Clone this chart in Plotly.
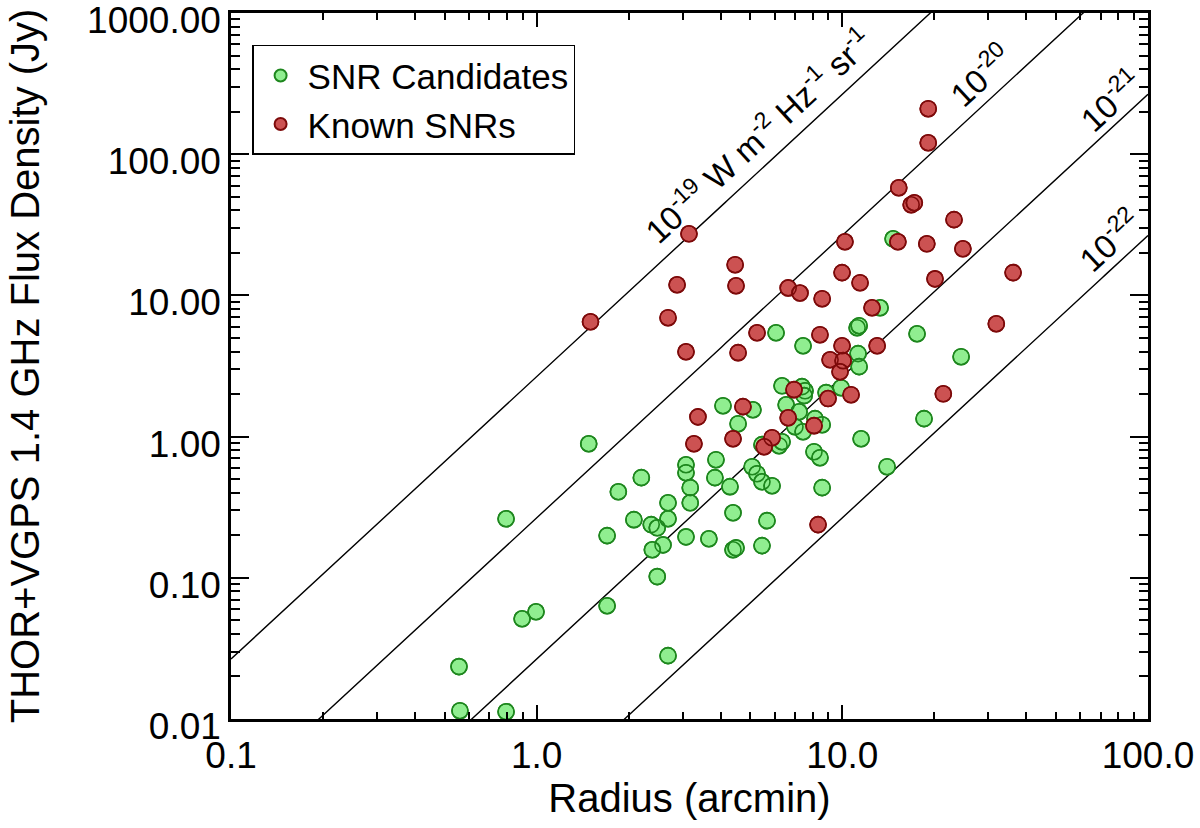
import numpy as np
import plotly.graph_objects as go

# ---------------- data ----------------
cand_radius = [1.48, 1.85, 2.20, 1.70, 0.794, 2.08, 2.37, 2.48, 2.69, 2.69,
               2.59, 2.39, 2.48, 1.70, 0.995, 0.896, 0.557, 2.69, 0.561, 0.794,
               3.08, 3.08, 3.18, 3.18, 3.08, 3.66, 3.86, 3.83, 4.29, 4.39,
               4.39, 4.49, 5.46, 5.67, 5.07, 5.26, 5.46, 5.89, 6.21, 5.46,
               6.35, 4.07, 5.10, 4.56, 6.55, 7.22, 8.14, 8.59, 7.00, 7.44,
               8.08, 8.45, 8.59, 6.35, 7.38, 7.55, 7.50, 8.85, 9.91, 6.07,
               7.44, 11.18, 11.35, 11.26, 11.35, 11.52, 14.01, 18.51, 17.56, 24.47,
               14.66, 13.29]
cand_flux = [0.89, 0.407, 0.512, 0.199, 0.262, 0.258, 0.238, 0.226, 0.340, 0.262,
             0.171, 0.158, 0.102, 0.0634, 0.0575, 0.0513, 0.0235, 0.0281, 0.01145, 0.01126,
             0.632, 0.555, 0.435, 0.340, 0.195, 0.189, 0.686, 0.512, 0.442, 0.289,
             0.158, 0.163, 0.169, 0.254, 0.612, 0.546, 0.479, 0.449, 0.862, 0.877,
             0.920, 1.655, 1.55, 1.234, 1.68, 1.50, 1.34, 1.214, 1.175, 1.083,
             0.782, 0.709, 0.435, 2.29, 2.26, 2.11, 1.95, 2.05, 2.22, 5.44,
             4.40, 5.90, 6.10, 3.87, 3.13, 0.966, 0.612, 1.34, 5.35, 3.68,
             25.2, 8.18]

known_radius = [1.50, 3.15, 2.88, 2.69, 3.08, 3.37, 3.27, 4.46, 4.49, 4.56,
                5.26, 4.73, 4.39, 5.89, 5.55, 6.65, 7.27, 8.59, 8.45, 9.98,
                10.2, 11.43, 12.51, 9.98, 13.0, 9.12, 10.06, 9.83, 6.95, 8.98,
                10.68, 6.65, 8.08, 8.33, 15.2, 18.9, 24.8, 23.2, 16.8, 17.2,
                15.3, 19.1, 19.1, 20.1, 36.2, 31.9, 21.4]
known_flux = [6.51, 27.3, 11.9, 6.95, 3.99, 1.38, 0.89, 16.5, 11.7, 3.93,
              5.44, 1.63, 0.966, 0.982, 0.848, 11.3, 10.4, 9.48, 5.27, 14.5,
              24.0, 12.3, 8.18, 4.40, 4.40, 3.50, 3.45, 2.88, 2.15, 1.86,
              1.98, 1.36, 1.195, 0.238, 24.0, 23.2, 21.4, 34.4, 43.9, 45.3,
              57.9, 120.6, 210.0, 13.1, 14.5, 6.30, 2.01]

# constant surface-brightness lines (W m^-2 Hz^-1 sr^-1)
sb_levels = [1e-19, 1e-20, 1e-21, 1e-22]
sb_labels = ["10<sup>-19</sup> W m<sup>-2</sup> Hz<sup>-1</sup> sr<sup>-1</sup>",
             "10<sup>-20</sup>", "10<sup>-21</sup>", "10<sup>-22</sup>"]
label_radius = [6.1, 32.0, 84.0, 84.0]

x_tickvals = [0.1, 1, 10, 100]
x_ticktext = ["0.1", "1.0", "10.0", "100.0"]
y_tickvals = [0.01, 0.1, 1, 10, 100, 1000]
y_ticktext = ["0.01", "0.10", "1.00", "10.00", "100.00", "1000.00"]

# ---------------- figure ----------------
FONT = "Liberation Sans, Arial, Helvetica, sans-serif"
ARCMIN2_SR = (np.pi / 180.0 / 60.0) ** 2


def sb_flux(level, radius):
    r = np.asarray(radius, dtype=float)
    return level * np.pi * r ** 2 * ARCMIN2_SR / 1e-26


fig = go.Figure()

r_grid = np.logspace(-1, 2, 300)
for lev in sb_levels:
    fig.add_trace(go.Scatter(x=r_grid, y=sb_flux(lev, r_grid), mode="lines",
                             line=dict(color="black", width=1.4),
                             showlegend=False, hoverinfo="skip"))

GREEN_FILL = "rgb(144,238,144)"
GREEN_EDGE = "rgb(30,135,30)"
RED_FILL = "rgb(204,82,82)"
RED_EDGE = "rgb(125,10,10)"
MS = 16

fig.add_trace(go.Scatter(x=cand_radius, y=cand_flux, mode="markers",
                         name="SNR Candidates",
                         marker=dict(size=MS, color=GREEN_FILL,
                                     line=dict(color=GREEN_EDGE, width=1.6))))
fig.add_trace(go.Scatter(x=cand_radius, y=cand_flux, mode="markers",
                         showlegend=False, hoverinfo="skip",
                         marker=dict(size=MS, color="rgba(0,0,0,0)",
                                     line=dict(color=GREEN_EDGE, width=1.6))))
fig.add_trace(go.Scatter(x=known_radius, y=known_flux, mode="markers",
                         name="Known SNRs",
                         marker=dict(size=MS, color=RED_FILL,
                                     line=dict(color=RED_EDGE, width=1.6))))
fig.add_trace(go.Scatter(x=known_radius, y=known_flux, mode="markers",
                         showlegend=False, hoverinfo="skip",
                         marker=dict(size=MS, color="rgba(0,0,0,0)",
                                     line=dict(color=RED_EDGE, width=1.6))))

# rotated labels along the lines
shifts = [(-19, 20), (-17, 18), (-15, 16), (-16, 17)]
for lev, txt, rl, (dx, dy) in zip(sb_levels, sb_labels, label_radius, shifts):
    fig.add_annotation(x=np.log10(rl), y=np.log10(float(sb_flux(lev, rl))),
                       xref="x", yref="y", text=txt, showarrow=False,
                       textangle=-42.7, xanchor="center", yanchor="middle",
                       xshift=dx, yshift=dy,
                       font=dict(family=FONT, size=33, color="black"))

minor_x = [k * 10.0 ** n for n in range(-1, 2) for k in range(2, 10)]
minor_y = [k * 10.0 ** n for n in range(-2, 3) for k in range(2, 10)]

fig.update_layout(
    width=1200, height=828,
    margin=dict(l=231, r=52, t=13, b=109, autoexpand=False),
    paper_bgcolor="white", plot_bgcolor="white",
    font=dict(family=FONT, color="black"),
    legend=dict(x=0.023, y=0.955, xanchor="left", yanchor="top",
                bgcolor="white", bordercolor="black", borderwidth=1.5,
                font=dict(family=FONT, size=35, color="black"),
                tracegroupgap=0, itemsizing="constant", itemwidth=44),
    xaxis=dict(type="log", range=[-1.0001, 2.0001], tickmode="array",
               tickvals=x_tickvals, ticktext=x_ticktext,
               ticks="inside", ticklen=14, tickwidth=2, tickcolor="black",
               showline=True, linecolor="black", linewidth=2.5, mirror="allticks",
               showgrid=False, zeroline=False, ticklabeloverflow="allow",
               ticklabelstandoff=2,
               tickfont=dict(family=FONT, size=37),
               minor=dict(ticks="inside", ticklen=7, tickwidth=2, tickcolor="black",
                          tickmode="array", tickvals=minor_x, showgrid=False),
               title=dict(text="Radius (arcmin)", font=dict(family=FONT, size=40),
                          standoff=2),
               automargin=False),
    yaxis=dict(type="log", range=[-2.0001, 3.0001], tickmode="array",
               tickvals=y_tickvals, ticktext=y_ticktext,
               ticks="inside", ticklen=18, tickwidth=2, tickcolor="black",
               showline=True, linecolor="black", linewidth=2.5, mirror="allticks",
               showgrid=False, zeroline=False, ticklabeloverflow="allow",
               ticklabelshift=7,
               tickfont=dict(family=FONT, size=37),
               minor=dict(ticks="inside", ticklen=9, tickwidth=2, tickcolor="black",
                          tickmode="array", tickvals=minor_y, showgrid=False),
               title=dict(text="THOR+VGPS 1.4 GHz Flux Density (Jy)",
                          font=dict(family=FONT, size=40), standoff=36),
               automargin=False),
)

# the page's default 8px body margin would shift the 1200x828 figure; remove it
fig.write_html("out.html",
               config={"displayModeBar": False},
               post_script="document.body.style.margin='0px';"
                           "document.body.style.overflow='hidden';")
